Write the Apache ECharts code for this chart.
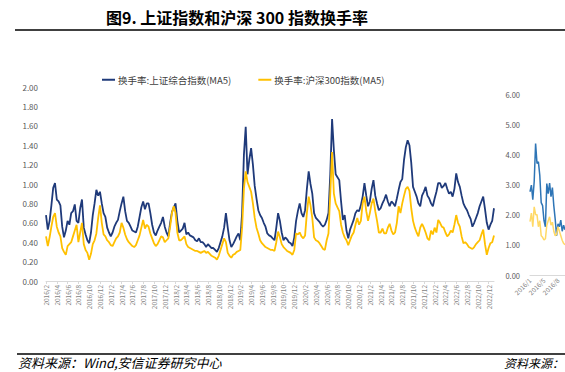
<!DOCTYPE html>
<html><head><meta charset="utf-8">
<script src="https://cdn.jsdelivr.net/npm/echarts@6/dist/echarts.min.js"></script>
<style>html,body{margin:0;padding:0;background:#fff}#c{width:565px;height:372px}</style>
</head><body><div id="c"></div>
<script>
// ---- data ----
const titleText = '图9. 上证指数和沪深 300 指数换手率';
const sourceText = '资料来源：Wind,安信证券研究中心';
const seriesNames = ['换手率:上证综合指数(MA5)', '换手率:沪深300指数(MA5)'];
const startYear = 2016, startMonth = 2, monthCount = 83; // 2016/2 .. 2022/12, 3 points per month, plus 2023/1
const shTurnover = [
0.68,0.53,0.62, 0.78,0.96,1.01, 0.84,0.82,0.78, 0.56,0.45,0.52, 0.62,0.58,0.70, 0.72,0.79,0.62,
0.60,0.75,0.84, 0.55,0.48,0.42, 0.39,0.50,0.68, 0.80,0.94,0.88, 0.92,0.80,0.70,
0.66,0.55,0.50, 0.46,0.50,0.56, 0.60,0.63,0.72, 0.80,0.87,0.72, 0.62,0.60,0.56, 0.52,0.51,0.50,
0.56,0.66,0.76, 0.82,0.74,0.80, 0.80,0.70,0.58, 0.50,0.47,0.52, 0.56,0.60,0.66, 0.56,0.50,0.46,
0.60,0.71,0.76, 0.80,0.62,0.50, 0.52,0.54,0.60, 0.48,0.50,0.47, 0.46,0.45,0.42, 0.41,0.44,0.40,
0.40,0.38,0.35, 0.38,0.36,0.34, 0.34,0.32,0.30, 0.34,0.40,0.46, 0.55,0.70,0.55, 0.42,0.35,0.38,
0.42,0.46,0.49, 0.42,0.70,1.30, 1.59,1.10,1.25, 1.37,1.20,0.98, 0.85,0.73,0.68, 0.65,0.60,0.56,
0.49,0.47,0.46, 0.44,0.42,0.55, 0.70,0.62,0.50, 0.42,0.45,0.43, 0.40,0.39,0.36, 0.45,0.62,0.72,
0.80,0.70,0.66, 0.73,0.95,1.13, 1.00,0.90,0.70, 0.65,0.63,0.61, 0.58,0.56,0.58, 0.63,0.70,1.10,
1.67,1.35,1.10, 1.07,1.04,0.82, 0.63,0.68,0.52, 0.44,0.53,0.58, 0.63,0.70,0.73, 0.72,0.78,0.87,
1.01,0.88,0.77, 0.82,0.95,1.04, 0.88,0.80,0.73, 0.75,0.80,0.84, 0.89,0.82,0.77, 0.82,0.80,0.77,
0.85,0.94,1.02, 1.05,1.25,1.38, 1.45,1.40,1.22, 0.97,0.92,0.87, 0.80,0.77,0.88, 0.92,0.97,0.88,
0.85,0.80,0.77, 0.85,0.92,1.01, 1.01,0.96,0.98, 1.01,0.95,0.90, 0.92,0.87,0.95, 1.11,1.02,0.97,
0.88,0.80,0.76, 0.73,0.68,0.64, 0.56,0.60,0.65, 0.70,0.77,0.82, 0.87,0.74,0.60, 0.53,0.58,0.62,
0.75];
const hs300Turnover = [
0.46,0.36,0.45, 0.56,0.66,0.70, 0.56,0.50,0.46, 0.34,0.30,0.27, 0.36,0.38,0.40, 0.46,0.52,0.58,
0.40,0.50,0.60, 0.38,0.32,0.29, 0.22,0.28,0.38, 0.42,0.49,0.65, 0.78,0.60,0.48,
0.46,0.42,0.40, 0.37,0.36,0.40, 0.44,0.46,0.50, 0.60,0.55,0.48, 0.43,0.40,0.38, 0.36,0.35,0.37,
0.42,0.47,0.55, 0.63,0.54,0.58, 0.56,0.49,0.44, 0.39,0.36,0.38, 0.42,0.46,0.45, 0.40,0.42,0.44,
0.56,0.70,0.77, 0.70,0.50,0.42, 0.42,0.44,0.46, 0.38,0.35,0.34, 0.33,0.32,0.31, 0.31,0.30,0.29,
0.30,0.31,0.29, 0.30,0.28,0.26, 0.25,0.24,0.22, 0.26,0.32,0.38, 0.44,0.40,0.29, 0.26,0.24,0.27,
0.28,0.30,0.31, 0.32,0.55,0.95, 1.13,1.02,0.97, 0.92,0.80,0.65, 0.55,0.49,0.42, 0.39,0.37,0.35,
0.34,0.33,0.32, 0.32,0.31,0.40, 0.51,0.45,0.38, 0.35,0.33,0.31, 0.30,0.29,0.27, 0.32,0.49,0.48,
0.50,0.46,0.44, 0.47,0.70,0.87, 0.78,0.65,0.45, 0.42,0.41,0.39, 0.36,0.33,0.32, 0.42,0.49,0.90,
1.33,0.90,0.80, 0.76,0.72,0.58, 0.50,0.45,0.42, 0.37,0.42,0.47, 0.50,0.58,0.65, 0.58,0.62,0.80,
0.87,0.72,0.62, 0.70,0.80,0.85, 0.72,0.62,0.50, 0.50,0.54,0.49, 0.49,0.55,0.59, 0.52,0.48,0.50,
0.60,0.77,0.70, 0.80,0.88,0.95, 0.97,0.93,0.75, 0.62,0.55,0.50, 0.46,0.55,0.59, 0.55,0.50,0.44,
0.42,0.52,0.48, 0.55,0.50,0.63, 0.60,0.56,0.55, 0.50,0.46,0.48, 0.52,0.50,0.58, 0.68,0.60,0.56,
0.46,0.39,0.40, 0.38,0.35,0.34, 0.33,0.35,0.38, 0.40,0.42,0.48, 0.53,0.38,0.27, 0.34,0.39,0.40,
0.47];
// partially visible neighbouring chart (cut off at the right edge)
const rightTicks = ['2016/1', '2016/5', '2016/8'];
const rightBlue = [2.76,2.98,2.50,3.10,4.36,3.70,3.75,3.30,2.40,2.30,1.80,1.60,3.03,2.70,3.05,2.60,2.90,2.30,1.85,1.30,1.70,1.60,1.82,1.45,1.65,1.50];
const rightYellow = [1.77,2.05,1.60,2.26,2.00,2.00,1.60,1.80,1.30,1.25,1.16,1.20,1.65,1.80,1.93,1.65,1.75,1.45,1.30,1.35,1.60,1.45,1.30,1.15,1.05,1.00];

// ---- build categories ----
const categories = [];
for (let k = 0; k < monthCount; k++) {
  const m0 = startMonth - 1 + k;
  const ym = (startYear + Math.floor(m0 / 12)) + '/' + (m0 % 12 + 1);
  categories.push(ym, ym + '/11', ym + '/21');
}
categories.push('2023/1');
const rightCats = [];
for (let i = 0; i < rightBlue.length; i++) rightCats.push('r' + i);

const FONT = '"Noto Sans CJK SC", "Noto Sans", sans-serif';
const chart = echarts.init(document.getElementById('c'), null, {renderer: 'svg'});
chart.setOption({
  animation: false,
  textStyle: {fontFamily: FONT},
  legend: {
    data: seriesNames, left: 97, top: 70, icon: 'rect', itemWidth: 13, itemHeight: 2, itemGap: 27,
    textStyle: {fontSize: 9.5, color: '#404040', fontFamily: FONT, padding: [0, 0, 0, -2]}
  },
  grid: [
    {left: 46, top: 87, width: 448, height: 194},
    {left: 530, top: 94, width: 35, height: 181}
  ],
  xAxis: [
    {type: 'category', gridIndex: 0, data: categories, boundaryGap: false,
     axisLine: {lineStyle: {color: '#d9d9d9'}},
     axisTick: {show: true, length: 3, interval: i => i % 6 === 0, lineStyle: {color: '#d9d9d9'}},
     axisLabel: {rotate: 90, fontSize: 6.5, color: '#7f7f7f', margin: 4, interval: i => i % 6 === 0}},
    {type: 'category', gridIndex: 1, data: rightCats, boundaryGap: false,
     axisLine: {lineStyle: {color: '#d9d9d9'}},
     axisTick: {show: false},
     axisLabel: {rotate: 45, fontSize: 6.5, color: '#7f7f7f', margin: 4, interval: i => i % 10 === 0,
                 formatter: (v, i) => rightTicks[Math.round(i / 10)] || ''}}
  ],
  yAxis: [
    {type: 'value', gridIndex: 0, min: 0, max: 2, interval: 0.2,
     axisLine: {show: false}, axisTick: {show: false}, splitLine: {show: false},
     axisLabel: {fontSize: 8, color: '#595959', margin: 8, formatter: v => v.toFixed(2)}},
    {type: 'value', gridIndex: 1, min: 0, max: 6, interval: 1,
     axisLine: {show: false}, axisTick: {show: false}, splitLine: {show: false},
     axisLabel: {fontSize: 7.5, color: '#595959', margin: 10, formatter: v => v.toFixed(2)}}
  ],
  series: [
    {name: seriesNames[0], type: 'line', xAxisIndex: 0, yAxisIndex: 0, data: shTurnover,
     symbol: 'none', color: '#1f3a7a', lineStyle: {width: 1.8, color: '#1f3a7a'}},
    {name: seriesNames[1], type: 'line', xAxisIndex: 0, yAxisIndex: 0, data: hs300Turnover,
     symbol: 'none', color: '#ffc000', lineStyle: {width: 1.8, color: '#ffc000'}},
    {name: 'rightBlue', type: 'line', xAxisIndex: 1, yAxisIndex: 1, data: rightBlue,
     symbol: 'none', lineStyle: {width: 1.5, color: '#2e75b6'}},
    {name: 'rightYellow', type: 'line', xAxisIndex: 1, yAxisIndex: 1, data: rightYellow,
     symbol: 'none', lineStyle: {width: 1.5, color: '#ffd966'}}
  ],
  graphic: [
    {type: 'text', x: 237, y: 17, style: {text: titleText, fontSize: 16, fontWeight: 'bold', fontFamily: FONT,
      fill: '#000', align: 'center', verticalAlign: 'middle'}},
    {type: 'line', shape: {x1: 15, y1: 30, x2: 565, y2: 30}, style: {stroke: '#000', lineWidth: 1.5}},
    {type: 'line', shape: {x1: 17, y1: 354, x2: 565, y2: 354}, style: {stroke: '#000', lineWidth: 1.5}},
    {type: 'text', x: 18, y: 362, style: {text: sourceText, fontSize: 13, fontStyle: 'italic', fontFamily: FONT,
      fill: '#000', align: 'left', verticalAlign: 'middle'}},
    {type: 'text', x: 504, y: 362, style: {text: '资料来源：', fontSize: 12, fontStyle: 'italic', fontFamily: FONT,
      fill: '#000', align: 'left', verticalAlign: 'middle'}}
  ]
});
</script></body></html>
